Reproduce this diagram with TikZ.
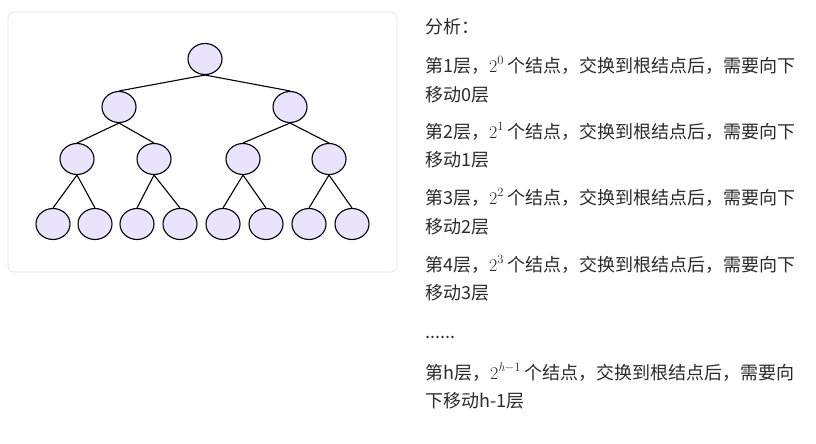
\documentclass[tikz,border=0pt]{standalone}
\usepackage{fontspec}
\setmainfont{Noto Sans CJK SC}
\newfontfamily\lmfont{Latin Modern Roman}
\usetikzlibrary{positioning,shapes.geometric}
\definecolor{heapfill}{HTML}{E9E3FD}
\definecolor{panelgray}{HTML}{E2E2E2}
\definecolor{textgray}{HTML}{2A2A2A}
\newcommand{\powtwo}[1]{{\lmfont\fontsize{18}{21}\selectfont 2\raisebox{0.42em}{\fontsize{12.6}{14}\selectfont #1}}}

\begin{document}
\begin{tikzpicture}[
  x=1pt, y=-1pt,
  font=\fontsize{18}{21}\selectfont,
  hpnode/.style={ellipse, draw=black, fill=heapfill, line width=1.1pt, minimum width=34pt, minimum height=31pt, inner sep=0pt},
  hpedge/.style={draw=black, line width=1.1pt},
  noteline/.style={anchor=west, inner sep=0pt, text=textgray}
]
  \useasboundingbox (0,0) rectangle (816,444);
  \node[draw=panelgray, line width=0.8pt, rounded corners=6pt, minimum width=389pt, minimum height=260pt, inner sep=0pt] (panel) at (202.5,142) {};
  % tree levels
  \node[hpnode] (n1) at (205,59) {};
  \node[hpnode] (n2) at (119,107) {};
  \node[hpnode] (n3) at (290,107) {};
  \node[hpnode] (n4) at (77,159) {};
  \node[hpnode] (n5) at (154,159) {};
  \node[hpnode] (n6) at (243,159) {};
  \node[hpnode] (n7) at (329,159) {};
  \node[hpnode] (n8) at (53,224) {};
  \node[hpnode] (n9) at (95,224) {};
  \node[hpnode] (n10) at (137,224) {};
  \node[hpnode] (n11) at (180,224) {};
  \node[hpnode] (n12) at (223,224) {};
  \node[hpnode] (n13) at (266,224) {};
  \node[hpnode] (n14) at (309,224) {};
  \node[hpnode] (n15) at (352,224) {};
  \draw[hpedge] (n1.south) -- (n2.north);
  \draw[hpedge] (n1.south) -- (n3.north);
  \draw[hpedge] (n2.south) -- (n4.north);
  \draw[hpedge] (n2.south) -- (n5.north);
  \draw[hpedge] (n3.south) -- (n6.north);
  \draw[hpedge] (n3.south) -- (n7.north);
  \draw[hpedge] (n4.south) -- (n8.north);
  \draw[hpedge] (n4.south) -- (n9.north);
  \draw[hpedge] (n5.south) -- (n10.north);
  \draw[hpedge] (n5.south) -- (n11.north);
  \draw[hpedge] (n6.south) -- (n12.north);
  \draw[hpedge] (n6.south) -- (n13.north);
  \draw[hpedge] (n7.south) -- (n14.north);
  \draw[hpedge] (n7.south) -- (n15.north);
  % analysis text
  \node[noteline] (t0) at (425,27) {分析：};
  \node[noteline] (t1) at (425,65) {第1层，\powtwo{0} 个结点，交换到根结点后，需要向下};
  \node[noteline] (t1b) at (425,95) {移动0层};
  \node[noteline] (t2) at (425,131) {第2层，\powtwo{1} 个结点，交换到根结点后，需要向下};
  \node[noteline] (t2b) at (425,160) {移动1层};
  \node[noteline] (t3) at (425,197) {第3层，\powtwo{2} 个结点，交换到根结点后，需要向下};
  \node[noteline] (t3b) at (425,227) {移动2层};
  \node[noteline] (t4) at (425,264) {第4层，\powtwo{3} 个结点，交换到根结点后，需要向下};
  \node[noteline] (t4b) at (425,293) {移动3层};
  \node[noteline] (tdots) at (425,337) {......};
  \node[noteline] (th) at (425,372) {第h层，\powtwo{\itshape h\upshape −1} 个结点，交换到根结点后，需要向};
  \node[noteline] (thb) at (425,401) {下移动h-1层};
\end{tikzpicture}
\end{document}
